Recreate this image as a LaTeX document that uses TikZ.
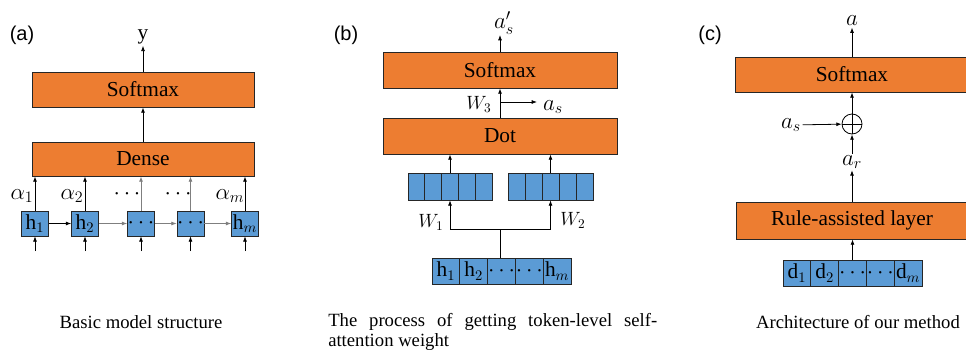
\documentclass[tikz,border=0pt]{standalone}
\usepackage{fontspec}
\setmainfont{Liberation Serif}
\newfontfamily\labfont{Liberation Sans}
\usetikzlibrary{arrows.meta}
\definecolor{orng}{HTML}{ED7D31}
\definecolor{blu}{HTML}{5B9BD5}
\definecolor{lgray}{HTML}{7F7F7F}
\begin{document}
\begin{tikzpicture}[x=0.75pt,y=-0.75pt,
  layer/.style={draw=black!85, fill=orng, line width=0.6pt, inner sep=0pt, font=\fontsize{16}{18}\selectfont},
  hbox/.style={draw=black!85, fill=blu, line width=0.5pt, inner sep=0pt, minimum width=20.25pt, minimum height=18.75pt, font=\fontsize{16}{17}\selectfont},
  vcell/.style={draw=black!85, fill=blu, line width=0.5pt, inner sep=0pt, minimum width=12.6pt, minimum height=20.25pt},
  scell/.style={draw=black!85, fill=blu, line width=0.5pt, inner sep=0pt, minimum width=20.85pt, minimum height=19.5pt, font=\fontsize{16}{17}\selectfont},
  arr/.style={-{Latex[length=4pt,width=3pt]}, line width=0.6pt},
  garr/.style={arr, draw=lgray},
  lab/.style={inner sep=1pt, font=\fontsize{18}{20}\selectfont},
  wlab/.style={inner sep=1pt, font=\fontsize{14}{16}\selectfont},
  plab/.style={font=\labfont\fontsize{15}{17}\selectfont},
  captxt/.style={font=\fontsize{14}{15}\selectfont}
]
\useasboundingbox (0,0) rectangle (966,350);

% ---------------- panel (a)
\node[plab] (pa) at (22,35) {(a)};
\node[layer, minimum width=166.5pt, minimum height=26.25pt] (softA) at (143,89.5) {Softmax};
\node[layer, minimum width=166.5pt, minimum height=25.5pt] (denseA) at (143,159) {Dense};
\node[inner sep=1pt, font=\fontsize{16}{18}\selectfont] (yA) at (143,37) {y};
\draw[arr] (softA) -- (yA);
\draw[arr] (denseA) -- (softA);

\node[hbox] (h1) at (35,223.5) {h$_1$};
\node[hbox] (h2) at (85,223.5) {h$_2$};
\node[hbox] (h3) at (141,223.5) {$\cdots$};
\node[hbox] (h4) at (190.5,223.5) {$\cdots$};
\node[hbox] (h5) at (245,223.5) {h$_m$};

\draw[arr] (h1) -- (h1 |- denseA.south);
\draw[arr] (h2) -- (h2 |- denseA.south);
\draw[garr] (h3) -- (h3 |- denseA.south);
\draw[garr] (h4) -- (h4 |- denseA.south);
\draw[arr] (h5) -- (h5 |- denseA.south);

\draw[arr] (h1) -- (h2);
\draw[garr] (h2) -- (h3);
\draw[garr] (h3) -- (h4);
\draw[garr] (h4) -- (h5);

\foreach \i/\x in {1/35,2/85,3/141,4/190.5,5/245}{
  \coordinate (bA\i) at (\x,251);
  \draw[arr] (bA\i) -- (h\i);
}

\node[lab] (al1) at (22,196) {$\alpha_1$};
\node[lab] (al2) at (72,196) {$\alpha_2$};
\node[lab] (al3) at (127,194) {$\cdots$};
\node[lab] (al4) at (178,194) {$\cdots$};
\node[lab] (al5) at (230,196) {$\alpha_m$};

\node[captxt] (capA) at (141,322) {Basic model structure};

% ---------------- panel (b)
\node[plab] (pb) at (346,35) {(b)};
\node[layer, minimum width=175.5pt, minimum height=27pt] (softB) at (500,70) {Softmax};
\node[layer, minimum width=175.5pt, minimum height=27pt] (dotB) at (500,136) {Dot};
\node[lab] (asp) at (504,23) {$a'_s$};
\coordinate (aspb) at (500,35);
\draw[arr] (softB) -- (aspb);
\draw[arr] (dotB) -- (softB);
\node[wlab] (w3) at (479,104) {$W_3$};
\coordinate (w3s) at (500,102);
\coordinate (w3e) at (537,102);
\draw[arr] (w3s) -- (w3e);
\node[lab] (asB) at (553,107) {$a_s$};

\foreach \i in {1,...,5}{
  \node[vcell] (vl\i) at ({408+16.8*(\i-0.5)},186.5) {};
  \node[vcell] (vr\i) at ({508+17*(\i-0.5)},186.5) {};
}
\draw[arr] (vl3) -- (vl3 |- dotB.south);
\draw[arr] (vr3) -- (vr3 |- dotB.south);

\node[scell] (s1) at (445.9,271) {h$_1$};
\node[scell] (s2) at (473.7,271) {h$_2$};
\node[scell] (s3) at (501.5,271) {$\cdots$};
\node[scell] (s4) at (529.3,271) {$\cdots$};
\node[scell] (s5) at (557.1,271) {h$_m$};

\coordinate (jb) at (500,229);
\draw[line width=0.6pt] (s3.north -| jb) -- (jb);
\draw[arr] (jb) -| (vl3);
\draw[arr] (jb) -| (vr3);
\node[wlab] (w1) at (431,222) {$W_1$};
\node[wlab] (w2) at (573,220) {$W_2$};

\node[captxt, anchor=north west, text width=246.75pt, align=justify, inner sep=0pt] (capB) at (328,313)
  {The process of getting token-level self-\linebreak attention weight};

% ---------------- panel (c)
\node[plab] (pc) at (710,35) {(c)};
\node[layer, minimum width=175.5pt, minimum height=26.25pt] (softC) at (852,74.5) {Softmax};
\node[layer, minimum width=173pt, minimum height=27.75pt] (ruleC) at (852,220.5) {Rule-assisted layer};
\node[lab] (aC) at (852,21) {$a$};
\node[draw, circle, line width=0.6pt, minimum size=15pt, inner sep=0pt,
      path picture={\draw[line width=0.6pt] (path picture bounding box.north) -- (path picture bounding box.south)
                     (path picture bounding box.west) -- (path picture bounding box.east);}] (op) at (852,124) {};
\node[lab] (asC) at (791,125) {$a_s$};
\node[lab] (arC) at (852,162) {$a_r$};
\draw[arr] (softC) -- (aC);
\draw[arr] (op) -- (softC);
\draw[arr] (arC) -- (op);
\draw[arr] (asC) -- (op);
\draw[arr] (ruleC) -- (arC);

\node[scell] (d1) at (796.9,273) {d$_1$};
\node[scell] (d2) at (824.7,273) {d$_2$};
\node[scell] (d3) at (852.5,273) {$\cdots$};
\node[scell] (d4) at (880.3,273) {$\cdots$};
\node[scell] (d5) at (908.1,273) {d$_m$};
\draw[arr] (d3) -- (d3 |- ruleC.south);

\node[captxt] (capC) at (858,322) {Architecture of our method};
\end{tikzpicture}
\end{document}
